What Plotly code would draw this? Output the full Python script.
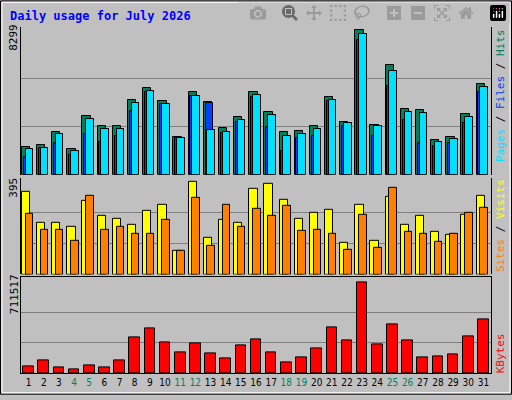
import plotly.graph_objects as go

days = list(range(1, 32))
weekend = [4, 5, 11, 12, 18, 19, 25, 26]

hits = [1584, 1698, 2433, 1471, 3395, 2773, 2773, 4300, 4980, 4244, 2150, 4753, 4187, 2660, 3339, 4753,
        3621, 2433, 2490, 2773, 4470, 3056, 8299, 2829, 6281, 3791, 3735, 1980, 2150, 3508, 5206]
files = [1019, 1528, 1811, 1132, 2320, 1867, 2207, 3678, 4753, 4074, 2094, 4527, 4130, 2376, 3056, 4470,
         2716, 1358, 2094, 2207, 4244, 2773, 7752, 2207, 5093, 3169, 1811, 1641, 1811, 2942, 4753]
pages = [1471, 1528, 2320, 1358, 3225, 2603, 2603, 4130, 4810, 4074, 2094, 4527, 2546, 2433, 3169, 4583,
         3452, 2207, 2320, 2603, 4300, 2999, 8092, 2773, 5941, 3621, 3565, 1867, 2037, 3338, 5036]
visits = [352, 218, 218, 205, 313, 248, 236, 210, 270, 296, 102, 395, 154, 231, 218, 365,
          386, 317, 236, 261, 274, 136, 296, 145, 330, 210, 248, 180, 167, 253, 335]
sites = [257, 192, 192, 145, 335, 192, 205, 171, 175, 231, 102, 326, 124, 296, 201, 279,
         248, 292, 188, 192, 175, 106, 253, 115, 369, 180, 175, 141, 171, 261, 283]
kbytes = [51740, 98300, 44000, 28500, 59500, 44000, 98300, 276800, 346700, 238000, 160400, 230300,
          152600, 113800, 214700, 261300, 160400, 82800, 121600, 191400, 354400, 253500, 711517,
          222500, 377700, 253500, 121600, 129400, 144900, 284600, 424300]

W, H = 512, 400
L, R, T, B = 21, 491, 27, 378


def px(x):
    return (x - L) / (R - L)


def py(y):
    return (B - y) / (B - T)


line = dict(color="black", width=1)
fig = go.Figure()
fig.add_bar(x=days, y=hits, marker=dict(color="#00805C", line=line), offset=-0.45, width=0.55, yaxis="y")
fig.add_bar(x=days, y=files, marker=dict(color="#0040FF", line=line), offset=-0.33, width=0.5, yaxis="y")
fig.add_bar(x=days, y=pages, marker=dict(color="#00E0FF", line=line), offset=-0.2, width=0.5, yaxis="y")
fig.add_bar(x=days, y=visits, marker=dict(color="#FFFF00", line=line), offset=-0.45, width=0.55, yaxis="y2")
fig.add_bar(x=days, y=sites, marker=dict(color="#FF8000", line=line), offset=-0.2, width=0.5, yaxis="y2")
fig.add_bar(x=days, y=kbytes, marker=dict(color="#FF0000", line=line), offset=-0.35, width=0.7, yaxis="y3")

ticktext = [f"<span style='color:#00805C'>{d}</span>" if d in weekend else str(d) for d in days]
grid = "#808080"


def yax(dom, top, mx):
    return dict(domain=dom, range=[0, top], tickvals=[mx / 3, 2 * mx / 3], showticklabels=False,
                gridcolor=grid, zeroline=False, showline=True, linecolor="black", mirror=True, ticks="")


fig.update_layout(
    width=W, height=H, showlegend=False, barmode="overlay", bargap=0,
    margin=dict(l=L, r=W - R, t=T, b=H - B, pad=0),
    paper_bgcolor="#C0C0C0", plot_bgcolor="#C0C0C0",
    font=dict(family="DejaVu Sans Mono", size=11, color="black"),
    xaxis=dict(range=[0.5, 31.5], tickvals=days, ticktext=ticktext, showgrid=False, zeroline=False,
               anchor="y3", showline=True, linecolor="black", mirror=True, ticks="", tickangle=0,
               tickfont=dict(size=10, family="DejaVu Sans Condensed")),
    yaxis=yax([py(177), 1], 8299 * 150 / 147, 8299),
    yaxis2=yax([py(278), py(180)], 395 * 98 / 94, 395),
    yaxis3=yax([0, py(281)], 711517 * 97 / 92, 711517),
    shapes=[
        dict(type="rect", xref="paper", yref="paper", x0=px(0.5), x1=px(511.5), y0=py(399.5), y1=py(0.5),
             line=dict(color="black", width=1)),
        dict(type="rect", xref="paper", yref="paper", x0=px(2), x1=px(510), y0=py(398), y1=py(2),
             line=dict(color="white", width=1)),
    ],
    annotations=[
        dict(text="<b>Daily usage for July 2026</b>", x=px(8), y=py(16), xref="paper", yref="paper",
             xanchor="left", yanchor="middle", showarrow=False, font=dict(color="#0000FF", size=12)),
        dict(text="8299", x=px(14), y=py(38), textangle=-90),
        dict(text="395", x=px(14), y=py(190), textangle=-90),
        dict(text="711517", x=px(14), y=py(298), textangle=-90),
        dict(text="<span style='color:#00E0FF'>Pages</span> / <span style='color:#0040FF'>Files</span>"
                  " / <span style='color:#00805C'>Hits</span>", x=px(500), y=py(97), textangle=-90),
        dict(text="<span style='color:#FF8000'>Sites</span> / <span style='color:#FFFF00'>Visits</span>",
             x=px(500), y=py(229), textangle=-90),
        dict(text="<span style='color:#FF0000'>KBytes</span>", x=px(500), y=py(358), textangle=-90),
    ],
)
for a in fig.layout.annotations[1:]:
    a.update(xref="paper", yref="paper", showarrow=False, xanchor="center", yanchor="middle")

fig.write_html("out.html", post_script="document.body.style.margin='0';")
